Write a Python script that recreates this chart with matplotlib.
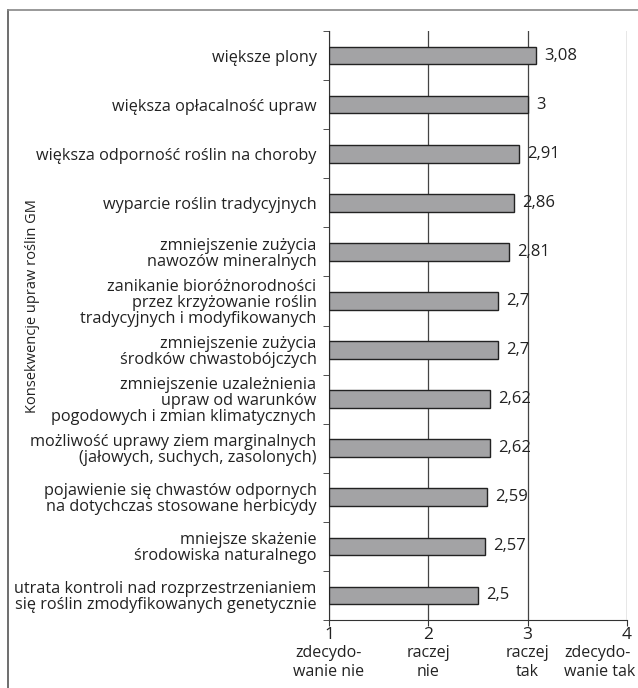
import matplotlib.pyplot as plt
from matplotlib.lines import Line2D
import matplotlib.transforms as mtransforms
import numpy as np

plt.rcParams['font.family'] = ['Open Sans', 'DejaVu Sans']

categories = [
    "większe plony",
    "większa opłacalność upraw",
    "większa odporność roślin na choroby",
    "wyparcie roślin tradycyjnych",
    "zmniejszenie zużycia\nnawozów mineralnych",
    "zanikanie bioróżnorodności\nprzez krzyżowanie roślin\ntradycyjnych i modyfikowanych",
    "zmniejszenie zużycia\nśrodków chwastobójczych",
    "zmniejszenie uzależnienia\nupraw od warunków\npogodowych i zmian klimatycznych",
    "możliwość uprawy ziem marginalnych\n(jałowych, suchych, zasolonych)",
    "pojawienie się chwastów odpornych\nna dotychczas stosowane herbicydy",
    "mniejsze skażenie\nśrodowiska naturalnego",
    "utrata kontroli nad rozprzestrzenianiem\nsię roślin zmodyfikowanych genetycznie",
]
values = [3.08, 3.0, 2.91, 2.86, 2.81, 2.7, 2.7, 2.62, 2.62, 2.59, 2.57, 2.5]
value_labels = ["3,08", "3", "2,91", "2,86", "2,81", "2,7", "2,7", "2,62", "2,62", "2,59", "2,57", "2,5"]
x_ticks = [1, 2, 3, 4]
x_desc = ["zdecydo-\nwanie nie", "raczej\nnie", "raczej\ntak", "zdecydo-\nwanie tak"]

fig = plt.figure(figsize=(6.38, 6.88), dpi=100)
ax = fig.add_axes([329 / 638, 1 - 620 / 688, 298 / 638, 589 / 688])

y = np.arange(len(categories))
ax.barh(y, np.array(values) - 1, left=1, height=0.36, color='#a3a3a5',
        edgecolor='#222222', linewidth=1.0, zorder=3)

for yi, v, lab in zip(y, values, value_labels):
    ax.annotate(lab, (v, yi), xytext=(6, 0), textcoords='offset points',
                va='center', ha='left', fontsize=12, color='#222222')

ax.set_xlim(1, 4)
ax.set_ylim(len(categories) - 0.5, -0.5)
ax.set_yticks(y)
ax.set_yticklabels(categories, fontsize=11.7, color='#222222', linespacing=1.0)
ax.set_yticks(np.arange(-0.5, len(categories), 1), minor=True)
ax.tick_params(axis='y', which='major', length=0, pad=9)
ax.tick_params(axis='y', which='minor', length=4, color='#333333')

ax.set_xticks(x_ticks)
ax.set_xticklabels([str(t) for t in x_ticks], fontsize=12.5, color='#222222')
ax.tick_params(axis='x', length=4, color='#333333', pad=1)

# descriptions under the x tick numbers
trans = mtransforms.blended_transform_factory(ax.transData, ax.transAxes)
for i, (t, d) in enumerate(zip(x_ticks, x_desc)):
    if i == len(x_ticks) - 1:
        ax.annotate(d, (t, 0), xycoords=trans, xytext=(6, -18), textcoords='offset points',
                    ha='right', va='top', fontsize=11.5, color='#222222',
                    multialignment='left', linespacing=1.25)
    else:
        ax.annotate(d, (t, 0), xycoords=trans, xytext=(0, -18), textcoords='offset points',
                    ha='center', va='top', fontsize=11.5, color='#222222',
                    linespacing=1.25)

ax.grid(axis='x', color='#444444', linewidth=0.9, zorder=0)
for s in ['top', 'right']:
    ax.spines[s].set_visible(False)
ax.spines['left'].set_color('#333333')
ax.spines['bottom'].set_color('#333333')

fig.text(33 / 638, 1 - 306 / 688, "Konsekwencje upraw roślin GM", rotation=90,
         ha='center', va='center', fontsize=10.5, color='#222222')

# border of the figure frame
fig.add_artist(Line2D([8 / 638, 8 / 638], [0, 1 - 10 / 688], transform=fig.transFigure,
                      color='#555555', linewidth=1.2))
fig.add_artist(Line2D([8 / 638, 1], [1 - 10 / 688, 1 - 10 / 688], transform=fig.transFigure,
                      color='#888888', linewidth=1.2))

fig.savefig("out.png", dpi=100)
